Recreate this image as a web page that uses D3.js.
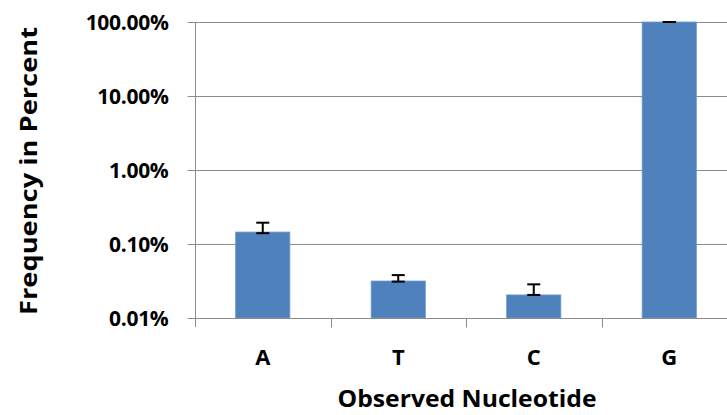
<!DOCTYPE html>
<html>
<head>
<meta charset="utf-8">
<script src="https://cdn.jsdelivr.net/npm/d3@7"></script>
<style>
  body { margin: 0; background: #fff; }
  svg { display: block; }
  text { font-family: "Open Sans", Lato, sans-serif; font-weight: bold; fill: #000; }
</style>
</head>
<body>
<svg id="chart" width="727" height="415"></svg>
<script>
const nucleotides = ['A', 'T', 'C', 'G'];
const frequency = [0.145, 0.0316, 0.0205, 100];
const errLow = [0.140, 0.031, 0.0205, 100];
const errHigh = [0.194, 0.038, 0.0285, 100];
const yTicks = [0.01, 0.1, 1, 10, 100];

const svg = d3.select('#chart');
const margin = { top: 22, bottom: 97, right: -10, left: 195 };
const width = 727, height = 415;
const innerWidth = width - margin.left - margin.right;
const innerHeight = height - margin.top - margin.bottom;

const data = nucleotides.map((n, i) => ({ n, v: frequency[i], lo: errLow[i], hi: errHigh[i] }));

const xScale = d3.scaleBand()
    .domain(nucleotides)
    .range([0, innerWidth])
    .paddingInner(0.6)
    .paddingOuter(0.3);
const yScale = d3.scaleLog()
    .domain([0.01, 100])
    .range([innerHeight, 0]);

const g = svg.append('g')
    .attr('transform', 'translate(' + margin.left + ',' + margin.top + ')');

// gridlines
g.selectAll('.grid')
    .data(yTicks.slice(1))
    .enter().append('line')
    .attr('x1', 0).attr('x2', width - margin.left)
    .attr('y1', d => Math.round(yScale(d)) + 0.5)
    .attr('y2', d => Math.round(yScale(d)) + 0.5)
    .attr('stroke', '#8c8c8c');

// bars
g.selectAll('rect')
    .data(data)
    .enter().append('rect')
    .attr('x', d => xScale(d.n))
    .attr('width', xScale.bandwidth())
    .attr('y', d => yScale(d.v))
    .attr('height', d => innerHeight - yScale(d.v))
    .attr('fill', '#4f81bd')
    .attr('stroke', '#6f98cc')
    .attr('stroke-width', 0.8);

// error bars
const cap = 6.5;
const mid = n => xScale(n) + xScale.bandwidth() / 2;
const eb = g.selectAll('.err').data(data).enter().append('g').attr('class', 'err')
    .attr('stroke', '#000').attr('stroke-width', 2);
eb.append('line')
    .attr('x1', d => mid(d.n)).attr('x2', d => mid(d.n))
    .attr('y1', d => yScale(d.lo)).attr('y2', d => yScale(d.hi));
eb.append('line')
    .attr('x1', d => mid(d.n) - cap).attr('x2', d => mid(d.n) + cap)
    .attr('y1', d => yScale(d.hi)).attr('y2', d => yScale(d.hi));
eb.append('line')
    .attr('x1', d => mid(d.n) - cap).attr('x2', d => mid(d.n) + cap)
    .attr('y1', d => yScale(d.lo)).attr('y2', d => yScale(d.lo));

// y axis
const yAxis = d3.axisLeft(yScale)
    .tickValues(yTicks)
    .tickSize(8)
    .tickPadding(19)
    .tickFormat(d => d3.format('.2f')(d) + '%');
const yg = g.append('g').attr('transform', 'translate(0.5,0)').call(yAxis);
yg.selectAll('.domain, .tick line').attr('stroke', '#8c8c8c');
yg.selectAll('.domain').attr('d', 'M0,0V' + (innerHeight + 9));
yg.selectAll('.tick text').attr('font-size', 21).attr('font-family', null)
    .attr('dy', '0.36em').attr('letter-spacing', -0.3);

// x axis (ticks between categories)
const step = xScale.step();
const xg = g.append('g').attr('transform', 'translate(0,' + (innerHeight + 0.5) + ')');
xg.append('line').attr('x1', 0).attr('x2', width - margin.left).attr('stroke', '#8c8c8c');
xg.selectAll('.xtick')
    .data(nucleotides.slice(1))
    .enter().append('line')
    .attr('x1', d => Math.round(xScale(d) - (step - xScale.bandwidth()) / 2) + 0.5)
    .attr('x2', d => Math.round(xScale(d) - (step - xScale.bandwidth()) / 2) + 0.5)
    .attr('y1', 0).attr('y2', 9)
    .attr('stroke', '#8c8c8c');
xg.selectAll('.xlabel')
    .data(nucleotides)
    .enter().append('text')
    .attr('x', d => mid(d))
    .attr('y', 46)
    .attr('text-anchor', 'middle')
    .attr('font-size', 22)
    .text(d => d);

// axis titles
svg.append('text')
    .attr('text-anchor', 'middle')
    .attr('x', 467)
    .attr('y', 407)
    .attr('font-size', 23)
    .attr('textLength', 259)
    .attr('lengthAdjust', 'spacingAndGlyphs')
    .text('Observed Nucleotide');
svg.append('text')
    .attr('text-anchor', 'middle')
    .attr('transform', 'translate(37,171) rotate(-90)')
    .attr('font-size', 23)
    .attr('textLength', 288)
    .attr('lengthAdjust', 'spacingAndGlyphs')
    .text('Frequency in Percent');
</script>
</body>
</html>
